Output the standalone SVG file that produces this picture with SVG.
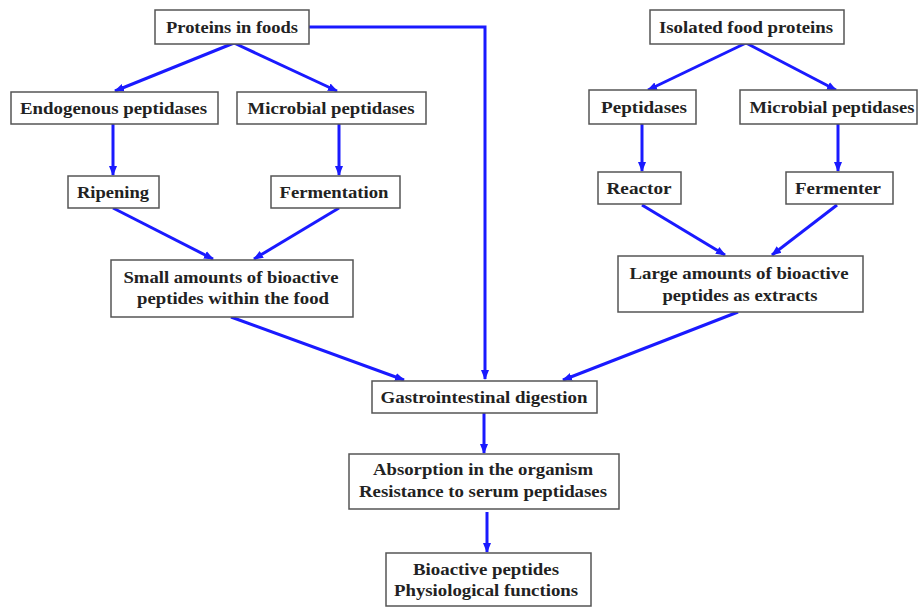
<svg xmlns="http://www.w3.org/2000/svg" width="918" height="608" viewBox="0 0 918 608">
<style>
.box{fill:#fff;stroke:#555;stroke-width:1.5}
.t{font-family:"Liberation Serif","Times New Roman",serif;font-weight:bold;font-size:17px;fill:#222;text-anchor:middle}
.c{fill:none;stroke:#1a1aff;stroke-width:3;marker-end:url(#ah)}
</style>
<defs>
<marker id="ah" viewBox="0 0 10 10" refX="9" refY="5" markerWidth="10" markerHeight="10" markerUnits="userSpaceOnUse" orient="auto">
<path d="M0,1 L10,5 L0,9 Z" fill="#1a1aff"/>
</marker>
</defs>
<rect width="918" height="608" fill="#fff"/>
<g id="connectors">
<path class="c" d="M309,27 H485 V379"/>
<path class="c" d="M234,43 L115,91"/>
<path class="c" d="M234,43 L337,91"/>
<path class="c" d="M113,124 V175"/>
<path class="c" d="M339,124 V175"/>
<path class="c" d="M113,208 L213,259"/>
<path class="c" d="M339,208 L254,259"/>
<path class="c" d="M231,317 L404,380"/>
<path class="c" d="M746,43 L648,90"/>
<path class="c" d="M746,43 L836,90"/>
<path class="c" d="M642,124 V171"/>
<path class="c" d="M838,124 V171"/>
<path class="c" d="M642,205 L725,255"/>
<path class="c" d="M837,205 L772,255"/>
<path class="c" d="M738,312 L563,380"/>
<path class="c" d="M484,413 V453"/>
<path class="c" d="M487,512 V552"/>
</g>
<g id="proteins-in-foods"><rect class="box" x="155" y="10" width="154" height="34"/><text class="t" x="232" y="33" textLength="132" lengthAdjust="spacingAndGlyphs">Proteins in foods</text></g>
<g id="endogenous-peptidases"><rect class="box" x="11" y="92" width="207" height="32"/><text class="t" x="113.5" y="114" textLength="187" lengthAdjust="spacingAndGlyphs">Endogenous peptidases</text></g>
<g id="microbial-peptidases-left"><rect class="box" x="237" y="92" width="189" height="32"/><text class="t" x="331" y="114" textLength="167" lengthAdjust="spacingAndGlyphs">Microbial peptidases</text></g>
<g id="ripening"><rect class="box" x="68" y="176" width="91" height="32"/><text class="t" x="113" y="198" textLength="72" lengthAdjust="spacingAndGlyphs">Ripening</text></g>
<g id="fermentation"><rect class="box" x="271" y="176" width="129" height="32"/><text class="t" x="334" y="198" textLength="109" lengthAdjust="spacingAndGlyphs">Fermentation</text></g>
<g id="small-amounts"><rect class="box" x="111" y="260" width="242" height="57"/><text class="t" x="231" y="283" textLength="215" lengthAdjust="spacingAndGlyphs">Small amounts of bioactive</text><text class="t" x="233" y="304" textLength="192" lengthAdjust="spacingAndGlyphs">peptides within the food</text></g>
<g id="isolated-food-proteins"><rect class="box" x="650" y="10" width="194" height="34"/><text class="t" x="746" y="33" textLength="174" lengthAdjust="spacingAndGlyphs">Isolated food proteins</text></g>
<g id="peptidases"><rect class="box" x="589" y="90" width="107" height="34"/><text class="t" x="644" y="113" textLength="86" lengthAdjust="spacingAndGlyphs">Peptidases</text></g>
<g id="microbial-peptidases-right"><rect class="box" x="740" y="90" width="177" height="34"/><text class="t" x="832" y="113" textLength="165" lengthAdjust="spacingAndGlyphs">Microbial peptidases</text></g>
<g id="reactor"><rect class="box" x="598" y="172" width="83" height="32"/><text class="t" x="639" y="194" textLength="65" lengthAdjust="spacingAndGlyphs">Reactor</text></g>
<g id="fermenter"><rect class="box" x="786" y="172" width="107" height="32"/><text class="t" x="838" y="194" textLength="86" lengthAdjust="spacingAndGlyphs">Fermenter</text></g>
<g id="large-amounts"><rect class="box" x="618" y="256" width="245" height="56"/><text class="t" x="739" y="279" textLength="219" lengthAdjust="spacingAndGlyphs">Large amounts of bioactive</text><text class="t" x="740" y="301" textLength="155" lengthAdjust="spacingAndGlyphs">peptides as extracts</text></g>
<g id="gastrointestinal-digestion"><rect class="box" x="372" y="381" width="225" height="32"/><text class="t" x="484" y="403" textLength="207" lengthAdjust="spacingAndGlyphs">Gastrointestinal digestion</text></g>
<g id="absorption"><rect class="box" x="349" y="454" width="270" height="55"/><text class="t" x="483" y="475" textLength="220" lengthAdjust="spacingAndGlyphs">Absorption in the organism</text><text class="t" x="483" y="497" textLength="248" lengthAdjust="spacingAndGlyphs">Resistance to serum peptidases</text></g>
<g id="bioactive-peptides"><rect class="box" x="386" y="553" width="205" height="53"/><text class="t" x="486" y="575" textLength="146" lengthAdjust="spacingAndGlyphs">Bioactive peptides</text><text class="t" x="486" y="596" textLength="184" lengthAdjust="spacingAndGlyphs">Physiological functions</text></g>
</svg>
